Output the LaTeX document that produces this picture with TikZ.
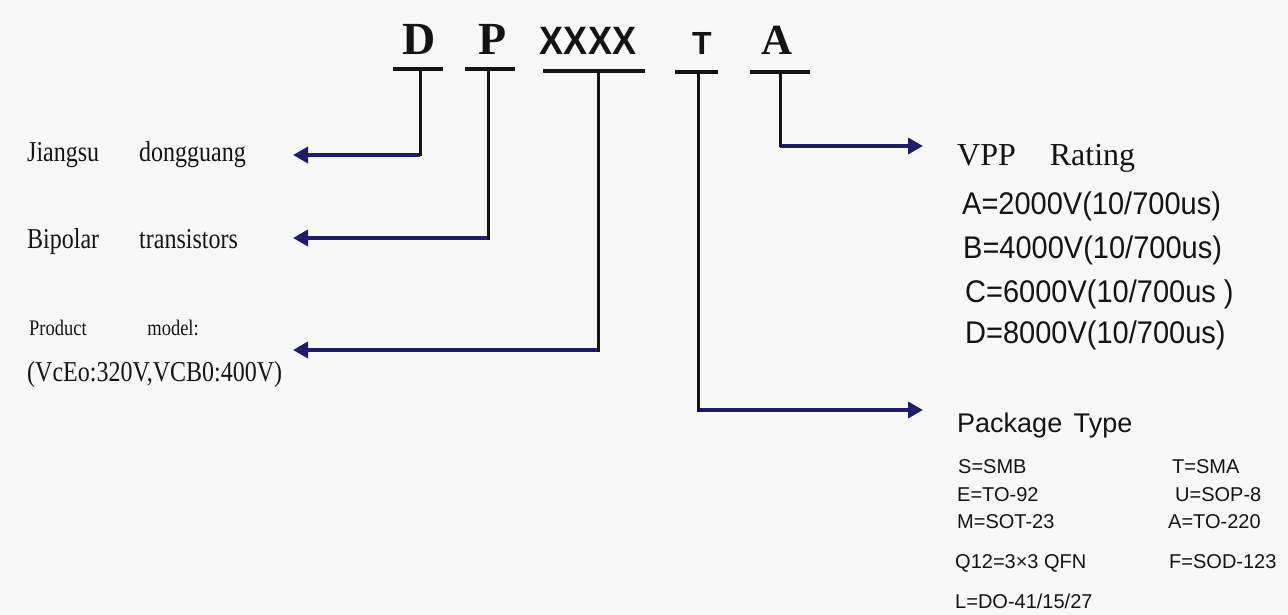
\documentclass[tikz,border=0pt]{standalone}
\usepackage{fontspec}
\setmainfont{Liberation Serif}
\setsansfont{Liberation Sans}
\usetikzlibrary{positioning,arrows.meta}
\definecolor{leadblue}{HTML}{1F1C6B}
\definecolor{paper}{HTML}{F8F8F8}
\definecolor{ink}{HTML}{141414}

\begin{document}
\begin{tikzpicture}[x=1pt, y=-1pt,
  code/.style={anchor=base, inner sep=0pt, text=ink},
  bar/.style={line width=3.5pt, ink},
  stem/.style={line width=3pt, ink},
  lead/.style={line width=3.5pt, leadblue, -{Triangle[length=15pt,width=16pt]}},
  note/.style={anchor=base west, inner sep=0pt, text=ink, font=\fontsize{24}{28}\selectfont},
  rating/.style={anchor=base west, inner sep=0pt, text=ink, font=\sffamily\fontsize{29}{32}\selectfont},
  pkg/.style={anchor=base west, inner sep=0pt, text=ink, font=\sffamily\fontsize{20}{22}\selectfont}]
\fill[paper] (0,0) rectangle (1288,615);
\useasboundingbox (0,0) rectangle (1288,615);

% part number
\node[code, font=\fontsize{46}{50}\selectfont\bfseries] (D) at (419,55) {D};
\node[code, font=\fontsize{46}{50}\selectfont\bfseries] (P) at (493,55) {P};
\node[code, font=\sffamily\fontsize{36}{40}\selectfont\bfseries] (X) at (588,55) {\scalebox{1}[1.1]{XXXX}};
\node[code, font=\sffamily\fontsize{32}{36}\selectfont\bfseries] (T) at (702,55) {T};
\node[code, font=\fontsize{43}{46}\selectfont\bfseries] (A) at (777,55) {A};

\coordinate (Dbar) at (420,69);
\coordinate (Pbar) at (488,69);
\coordinate (Xbar) at (598,71);
\coordinate (Tbar) at (698,72);
\coordinate (Abar) at (780,72);
\draw[bar] ([xshift=-27pt]Dbar) -- ([xshift=23pt]Dbar);
\draw[bar] ([xshift=-23pt]Pbar) -- ([xshift=27pt]Pbar);
\draw[bar] ([xshift=-55pt]Xbar) -- ([xshift=47pt]Xbar);
\draw[bar] ([xshift=-23pt]Tbar) -- ([xshift=20pt]Tbar);
\draw[bar] ([xshift=-30pt]Abar) -- ([xshift=30pt]Abar);

% left side
\node[note] (maker) at (27,162) {\scalebox{1}[1.2]{Jiangsu\hspace{34pt} dongguang}};
\node[note] (kind) at (27,248) {\scalebox{1}[1.2]{Bipolar\hspace{34pt} transistors}};
\node[note, font=\fontsize{18.5}{22}\selectfont] (model) at (29,335) {\scalebox{1}[1.2]{Product\hspace{56pt} model:}};
\node[note] (limits) at (27,381) {\scalebox{1}[1.2]{(VcEo:320V,VCB0:400V)}};

% right side
\node[note, font=\fontsize{32}{36}\selectfont] (vpp) at (957,165) {VPP\hspace{26pt} Rating};
\node[rating] (ra) at (962,214) {\scalebox{1}[1.08]{A=2000V(10/700us)}};
\node[rating] (rb) at (963,258) {\scalebox{1}[1.08]{B=4000V(10/700us)}};
\node[rating] (rc) at (965,302) {\scalebox{1}[1.08]{C=6000V(10/700us )}};
\node[rating] (rd) at (965,343) {\scalebox{1}[1.08]{D=8000V(10/700us)}};

\node[rating, font=\sffamily\fontsize{27}{30}\selectfont] (pack) at (957,432) {Package\hspace{4pt} Type};
\node[pkg] (ps) at (958,473) {S=SMB};
\node[pkg] (pe) at (957,501) {E=TO-92};
\node[pkg] (pm) at (957,528) {M=SOT-23};
\node[pkg] (pq) at (955,568) {Q12=3×3 QFN};
\node[pkg] (pl) at (955,608) {L=DO-41/15/27};
\node[pkg] (pt) at (1172,473) {T=SMA};
\node[pkg] (pu) at (1175,501) {U=SOP-8};
\node[pkg] (pa) at (1168,528) {A=TO-220};
\node[pkg] (pf) at (1169,568) {F=SOD-123};

% leads
\coordinate (Dturn) at (Dbar |- 0,155);
\coordinate (Pturn) at (Pbar |- 0,238);
\coordinate (Xturn) at (Xbar |- 0,350);
\coordinate (Tturn) at (Tbar |- 0,410);
\coordinate (Aturn) at (Abar |- 0,146);
\coordinate (Dtip) at (293,155);
\coordinate (Ptip) at (293,238);
\coordinate (Xtip) at (293,350);
\coordinate (Ttip) at (923,410);
\coordinate (Atip) at (923,146);
\draw[lead] (Dturn) -- (Dtip);
\draw[lead] (Pturn) -- (Ptip);
\draw[lead] (Xturn) -- (Xtip);
\draw[lead] (Tturn) -- (Ttip);
\draw[lead] (Aturn) -- (Atip);
\draw[stem] (Dbar) -- ([yshift=-1.5pt]Dturn);
\draw[stem] (Pbar) -- ([yshift=-1.5pt]Pturn);
\draw[stem] (Xbar) -- ([yshift=-1.5pt]Xturn);
\draw[stem] (Tbar) -- ([yshift=-1.5pt]Tturn);
\draw[stem] (Abar) -- ([yshift=-1.5pt]Aturn);
\end{tikzpicture}
\end{document}
